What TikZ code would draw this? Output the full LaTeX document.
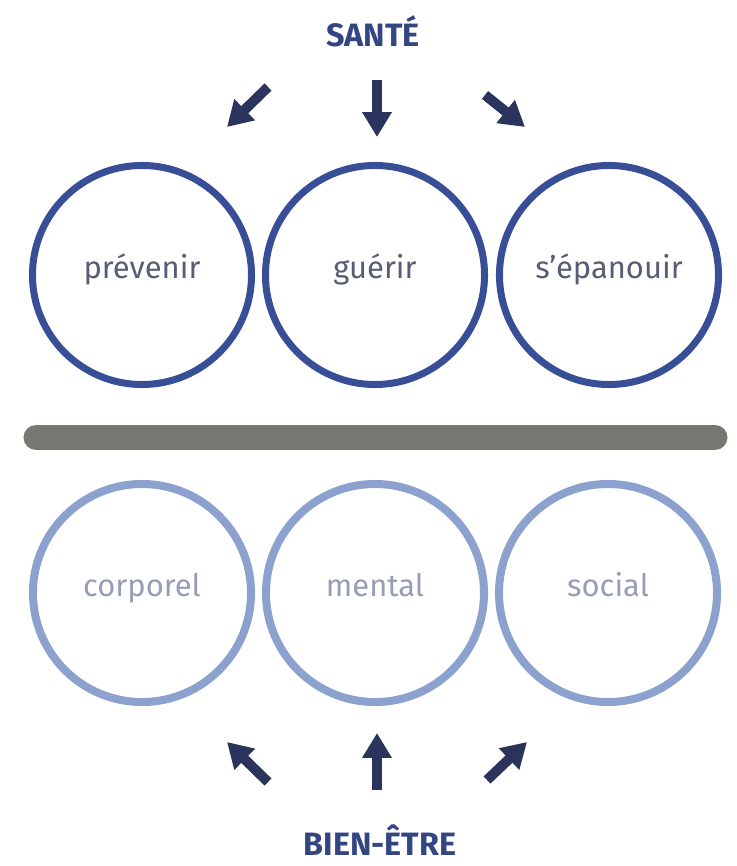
\documentclass[tikz,border=0pt]{standalone}
\usepackage{fontspec}
\setmainfont{Fira Sans}
\usetikzlibrary{arrows.meta}
\definecolor{santeblue}{RGB}{56,78,150}
\definecolor{bienblue}{RGB}{140,161,206}
\definecolor{arrowblue}{RGB}{42,52,92}
\definecolor{titleblue}{RGB}{52,70,130}
\definecolor{labelgray}{RGB}{88,92,116}
\definecolor{lightgray}{RGB}{150,158,182}
\definecolor{bargray}{RGB}{121,119,113}
\begin{document}
\begin{tikzpicture}
        [
          x=0.025cm, y=-0.025cm,
          title/.style={anchor=base, inner sep=0pt, text=titleblue, font=\bfseries\fontsize{23}{26}\selectfont},
          topcircle/.style={circle, draw=santeblue, line width=0.175cm, minimum size=5.475cm,
            text=labelgray, text height=0.75em, text depth=0.22em, font=\fontsize{22}{24}\selectfont},
          botcircle/.style={circle, draw=bienblue, line width=0.2cm, minimum size=5.45cm,
            text=lightgray, text height=0.75em, text depth=0.22em, font=\fontsize{22}{24}\selectfont},
          bigarrow/.style={draw=arrowblue, line width=0.25cm,
            -{Triangle[length=0.62cm, width=0.7cm]}}
        ]
        \useasboundingbox (0,0) rectangle (736,866);
        % titles
        \node [title] (sante) at (373,47) {SANTÉ};
        \node [title] (bienetre) at (380,855) {BIEN-ÊTRE};
        % sante circles
        \node [topcircle] (prevenir) at (142,275) {prévenir};
        \node [topcircle] (guerir) at (375,275) {guérir};
        \node [topcircle] (epanouir) at (609,275) {s’épanouir};
        % separator
        \draw [bargray, line width=0.625cm, line cap=round] (36,437.5) -- (715,437.5);
        % bien-etre circles
        \node [botcircle] (corporel) at (142,593) {corporel};
        \node [botcircle] (mental) at (375,593) {mental};
        \node [botcircle] (social) at (608,593) {social};
        % arrows
        \foreach \n/\x/\y in {a/268/87, b/377/80, c/485/95, d/268/782, e/377/790, f/487/780} {
            \coordinate (tail\n) at (\x,\y);
        }
        \foreach \n/\x/\y in {a/227/127, b/377/137, c/525/127, d/227/742, e/377/733, f/527/742} {
            \coordinate (tip\n) at (\x,\y);
        }
        \foreach \n in {a,b,c,d,e,f} {
            \draw [bigarrow] (tail\n) -- (tip\n);
        }
\end{tikzpicture}
\end{document}
